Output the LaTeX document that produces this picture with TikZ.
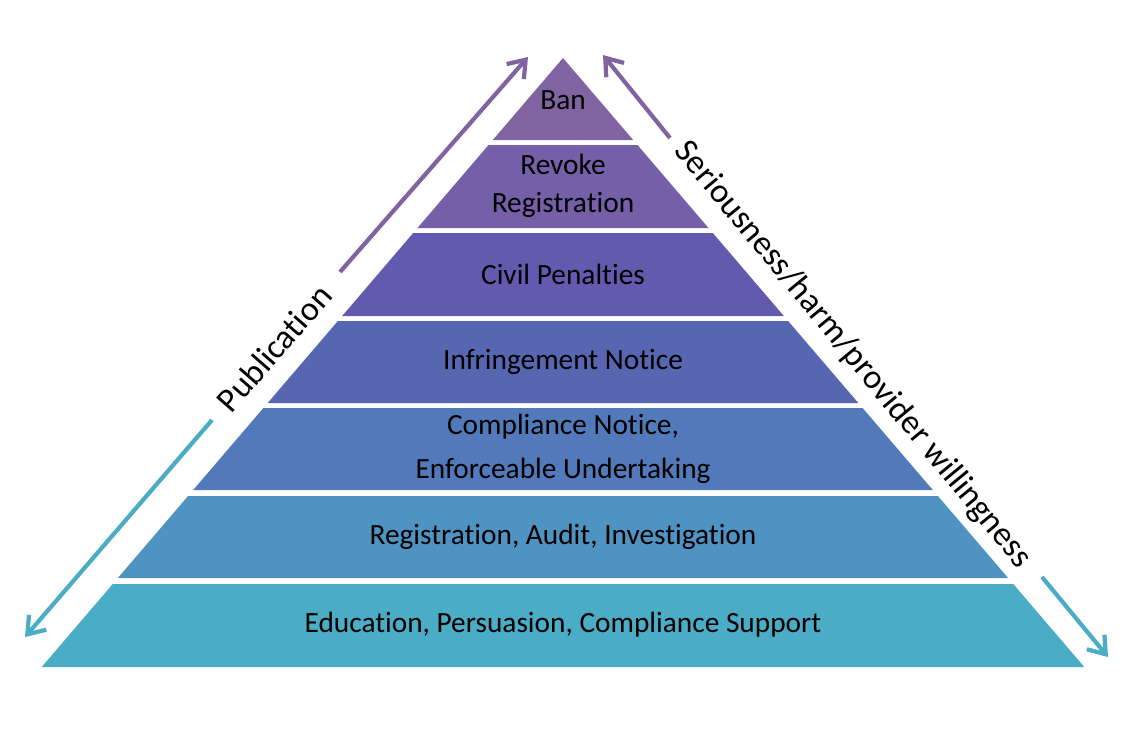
\documentclass[tikz,border=0pt]{standalone}
\usepackage{fontspec}
\setmainfont[Ligatures={NoCommon}]{Carlito}
\usetikzlibrary{arrows.meta}
\definecolor{c1}{HTML}{8064A2}
\definecolor{c2}{HTML}{745FA8}
\definecolor{c3}{HTML}{625AAE}
\definecolor{c4}{HTML}{5766B0}
\definecolor{c5}{HTML}{527ABA}
\definecolor{c6}{HTML}{4F93C2}
\definecolor{c7}{HTML}{4BACC6}
\tikzset{lbl/.style={font=\fontsize{16.7}{22}\selectfont,align=center,text=black},
side/.style={font=\fontsize{19.5}{22}\selectfont,text=black},
arr/.style={line width=2.4pt,-{Straight Barb[length=9pt,width=13pt]}}}
\begin{document}
\begin{tikzpicture}[x=0.02cm,y=-0.02cm]
\useasboundingbox (0,0) rectangle (1133,735);
\def\band#1#2#3{%
\pgfmathsetmacro\la{563-0.856*(#1-58)}\pgfmathsetmacro\ra{563+0.856*(#1-58)}%
\pgfmathsetmacro\lb{563-0.856*(#2-58)}\pgfmathsetmacro\rb{563+0.856*(#2-58)}%
\fill[#3] (\la,#1) -- (\ra,#1) -- (\rb,#2) -- (\lb,#2) -- cycle;}
\band{58}{140}{c1}
\band{145}{228}{c2}
\band{233}{316}{c3}
\band{321}{403}{c4}
\band{408}{490}{c5}
\band{496}{578}{c6}
\band{584}{667}{c7}
\node[lbl] (n1) at (563,100) {Ban};
\node[lbl] (n2) at (563,186) {Revoke\\Registration};
\node[lbl] (n3) at (563,274) {Civil Penalties};
\node[lbl] (n4) at (563,362) {Infringement Notice};
\node[lbl,font=\fontsize{16.7}{25}\selectfont] (n5) at (563,449) {Compliance Notice,\\Enforceable Undertaking};
\node[lbl] (n6) at (563,537) {Registration, Audit, Investigation};
\node[lbl] (n7) at (563,625) {Education, Persuasion, Compliance Support};
\coordinate (a1) at (340,272); \coordinate (a2) at (528,57);
\coordinate (b1) at (212,420); \coordinate (b2) at (25,637);
\coordinate (c1s) at (670,138); \coordinate (c2e) at (603,55);
\coordinate (d1) at (1042,577); \coordinate (d2) at (1108,657);
\draw[arr,c1] (a1) -- (a2);
\draw[arr,c7] (b1) -- (b2);
\draw[arr,c1] (c1s) -- (c2e);
\draw[arr,c7] (d1) -- (d2);
\node[side,rotate=48.8] (pub) at (274,348) {Publication};
\node[side,rotate=-50.5] (ser) at (853,355) {Seriousness/harm/provider willingness};
\end{tikzpicture}
\end{document}
